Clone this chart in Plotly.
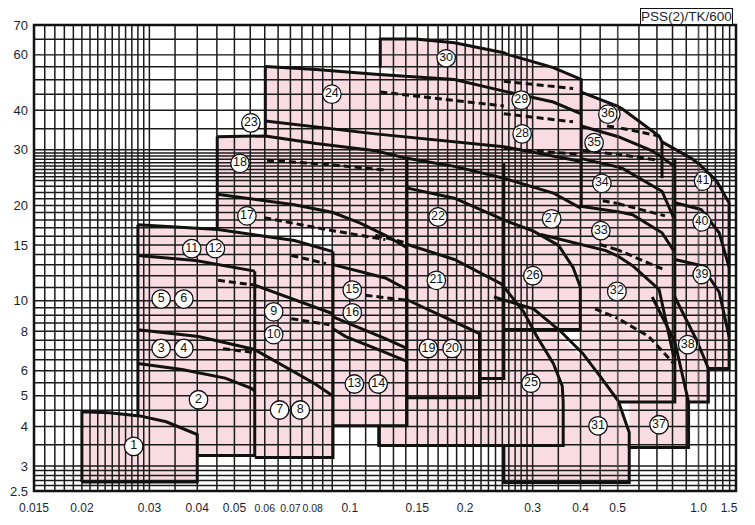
import math
import plotly.graph_objects as go

# ---------------- axis labels ----------------
x_tick_vals = [0.015, 0.02, 0.03, 0.04, 0.05, 0.06, 0.07, 0.08, 0.1, 0.15, 0.2, 0.3, 0.4, 0.5, 1.0, 1.5]
x_tick_text = ["0.015", "0.02", "0.03", "0.04", "0.05", "0.06", "0.07", "0.08", "0.1", "0.15",
               "0.2", "0.3", "0.4", "0.5", "1.0", "1.5"]
y_tick_vals = [2.5, 3, 4, 5, 6, 8, 10, 15, 20, 30, 40, 60, 70]
y_tick_text = ["2.5", "3", "4", "5", "6", "8", "10", "15", "20", "30", "40", "60", "70"]

# grid values of the chart paper
x_grid = ([round(0.015 + 0.001 * k, 3) for k in range(16)] +
          [0.035, 0.04, 0.045, 0.05, 0.055, 0.06, 0.065, 0.07, 0.075, 0.08, 0.085, 0.09, 0.1] +
          [round(0.11 + 0.01 * k, 2) for k in range(20)] +
          [0.35, 0.4, 0.45, 0.5] + [round(0.6 + 0.1 * k, 1) for k in range(10)])
y_grid = ([round(2.5 + 0.1 * k, 1) for k in range(6)] +
          [round(3.5 + 0.5 * k, 1) for k in range(14)] +
          [float(v) for v in range(11, 24)] +
          [round(24 + 2 / 3 * k, 2) for k in range(10)] +
          [35, 40, 45, 50, 55, 60, 65, 70])

# ---------------- pink selection areas (Q m3/min, H m) ----------------
area_1_q = [0.02, 0.02, 0.0236, 0.0283, 0.0332, 0.04, 0.04]
area_1_h = [2.67, 4.45, 4.42, 4.32, 4.14, 3.77, 2.67]
area_b_q = [0.028, 0.028, 0.0358, 0.0453, 0.0717, 0.0904, 0.0904]
area_b_h = [3.21, 17.4, 17.1, 16.8, 15.5, 14.3, 3.21]
area_d_q = [0.0451, 0.0451, 0.0602, 0.0817, 0.1166, 0.141, 0.141, 0.0904, 0.0904]
area_d_h = [16.8, 33.0, 33.2, 31.4, 29.8, 28.2, 4.02, 4.02, 16.8]
area_e_q = [0.0602, 0.0602, 0.0817, 0.1166, 0.1875, 0.2523, 0.3396, 0.4017, 0.4017, 0.2523,
            0.2523, 0.218, 0.218, 0.1408, 0.1408]
area_e_h = [33.2, 55.1, 53.9, 52.0, 50.1, 46.0, 42.5, 39.0, 8.1, 8.1, 5.67, 5.67, 4.93, 4.93, 28.2]
area_25_q = [0.119, 0.119, 0.1415, 0.1875, 0.2487, 0.2841, 0.3077, 0.3396, 0.3584, 0.3604, 0.3604]
area_25_h = [3.48, 15.05, 15.05, 13.5, 11.3, 9.22, 7.70, 6.33, 5.37, 4.78, 3.48]
area_30_q = [0.1201, 0.1201, 0.1479, 0.1875, 0.2523, 0.3396, 0.4017, 0.4017]
area_30_h = [54.6, 65.1, 65.1, 63.8, 60.6, 54.6, 50.1, 39.0]
area_31_q = [0.2523, 0.2523, 0.32, 0.3548, 0.4496, 0.504, 0.552, 0.552]
area_31_h = [2.66, 14.7, 11.04, 7.70, 5.77, 4.78, 3.83, 2.66]
area_g_q = [0.4017, 0.4017, 0.521, 0.713, 0.816, 0.816, 0.504, 0.4017]
area_g_h = [8.1, 45.7, 40.4, 33.2, 28.2, 4.78, 4.78, 5.77]
area_37_q = [0.552, 0.552, 0.816, 0.918, 0.918]
area_37_h = [3.43, 10.3, 7.70, 4.78, 3.43]
area_h_q = [0.731, 0.941, 1.212, 1.392, 1.392, 1.112, 1.112, 0.918, 0.816, 0.816]
area_h_h = [31.8, 28.2, 24.0, 20.4, 6.1, 6.1, 4.78, 4.78, 7.70, 28.2]

# ---------------- solid performance / limit lines ----------------
line_1_q = [0.02, 0.02, 0.0236, 0.0283, 0.0332, 0.04, 0.04, 0.02]
line_1_h = [2.67, 4.45, 4.42, 4.32, 4.14, 3.77, 2.67, 2.67]
line_b_left_q = [0.028, 0.028]
line_b_left_h = [4.32, 17.4]
line_11_12_q = [0.028, 0.0358, 0.0453, 0.0717, 0.0904]
line_11_12_h = [17.4, 17.1, 16.8, 15.5, 14.3]
line_5_6_q = [0.028, 0.0396, 0.0565]
line_5_6_h = [13.9, 13.4, 12.4]
line_b_box_q = [0.0565, 0.0565, 0.04]
line_b_box_h = [12.4, 3.24, 3.24]
line_3_4_q = [0.028, 0.0403, 0.0565]
line_3_4_h = [8.09, 7.70, 7.01]
line_2_q = [0.028, 0.0365, 0.0473, 0.0552, 0.0565]
line_2_h = [6.33, 6.06, 5.69, 5.29, 5.18]
line_7_8_q = [0.0565, 0.0658, 0.0807, 0.0904]
line_7_8_h = [7.0, 6.29, 5.48, 4.99]
line_c_box_q = [0.0904, 0.0904, 0.0565]
line_c_box_h = [14.3, 3.19, 3.19]
line_9_10_q = [0.0565, 0.0717, 0.0904]
line_9_10_h = [11.2, 10.05, 9.09]
line_17_18_left_q = [0.0451, 0.0451]
line_17_18_left_h = [16.8, 33.0]
line_18_q = [0.0451, 0.0602, 0.0817, 0.1166, 0.141, 0.1875, 0.2523, 0.3396, 0.3994]
line_18_h = [33.0, 33.2, 31.4, 29.8, 28.2, 26.6, 24.4, 21.9, 19.65]
line_17_q = [0.0451, 0.0717, 0.0904, 0.1065, 0.1238, 0.141]
line_17_h = [21.7, 20.1, 19.0, 17.6, 16.1, 14.7]
line_15_q = [0.0904, 0.1238, 0.141]
line_15_h = [13.0, 11.8, 10.85]
line_16_q = [0.0904, 0.1238, 0.141]
line_16_h = [8.89, 7.59, 7.06]
line_13_14_q = [0.0904, 0.0976, 0.1166, 0.141]
line_13_14_h = [8.15, 7.70, 7.06, 6.43]
line_d_box_q = [0.141, 0.141, 0.0904]
line_d_box_h = [28.2, 4.02, 4.02]
line_24_left_q = [0.0602, 0.0602]
line_24_left_h = [33.2, 55.1]
line_24_q = [0.0602, 0.0817, 0.1166, 0.1875, 0.2523, 0.3396, 0.4017]
line_24_h = [55.1, 53.9, 52.0, 50.1, 46.0, 42.5, 39.0]
line_23_q = [0.0602, 0.1166, 0.2523, 0.3994]
line_23_h = [37.0, 33.7, 30.7, 27.6]
line_30_q = [0.1201, 0.1201, 0.1479, 0.1875, 0.2523, 0.3396, 0.4017, 0.4017]
line_30_h = [54.6, 65.1, 65.1, 63.8, 60.6, 54.6, 50.1, 19.65]
line_36_q = [0.4017, 0.521, 0.713, 0.731, 0.731]
line_36_h = [45.7, 40.4, 33.2, 31.8, 24.4]
line_41_q = [0.731, 0.941, 1.212, 1.392, 1.392, 1.112, 1.112, 0.918, 0.918, 0.552, 0.552, 0.2523, 0.2523]
line_41_h = [31.8, 28.2, 24.0, 20.4, 6.1, 6.1, 4.78, 4.78, 3.43, 3.43, 2.66, 2.66, 3.48]
line_25_box_q = [0.119, 0.119, 0.3604, 0.3604]
line_25_box_h = [4.02, 3.48, 3.48, 4.78]
line_21_25_q = [0.1415, 0.1875, 0.2487, 0.2841, 0.3077, 0.3396, 0.3584, 0.3604]
line_21_25_h = [15.05, 13.5, 11.3, 9.22, 7.70, 6.33, 5.37, 4.78]
line_22_27_q = [0.1415, 0.1875, 0.2523, 0.3015, 0.3506, 0.3824, 0.3994]
line_22_27_h = [22.7, 21.1, 18.0, 16.6, 14.95, 12.75, 11.04]
line_31_q = [0.2378, 0.3015, 0.3548, 0.4058, 0.4496, 0.504, 0.552, 0.552]
line_31_h = [10.27, 9.42, 8.0, 6.8, 5.77, 4.78, 3.83, 3.43]
line_19_20_q = [0.1415, 0.1767, 0.218, 0.218, 0.1408]
line_19_20_h = [10.05, 8.89, 7.87, 4.93, 4.93]
line_26_27_box_q = [0.218, 0.2523, 0.2523, 0.3994, 0.3994]
line_26_27_box_h = [5.67, 5.67, 8.1, 8.1, 11.04]
line_e_right_q = [0.2523, 0.2523]
line_e_right_h = [27.2, 8.1]
line_g_box_q = [0.816, 0.816, 0.504]
line_g_box_h = [28.2, 4.78, 4.78]
line_35_q = [0.4017, 0.521, 0.672, 0.816]
line_35_h = [35.7, 32.5, 29.8, 26.6]
line_34_q = [0.3994, 0.521, 0.731, 0.808]
line_34_h = [28.2, 26.2, 22.2, 18.3]
line_33_q = [0.3994, 0.568, 0.731, 0.808]
line_33_h = [19.9, 18.7, 16.4, 14.4]
line_32_q = [0.315, 0.3994, 0.4659, 0.568, 0.713, 0.808]
line_32_h = [16.2, 15.05, 14.4, 12.9, 10.85, 6.66]
line_40_q = [0.816, 1.032, 1.25, 1.392]
line_40_h = [20.4, 19.4, 16.4, 12.75]
line_39_q = [0.816, 1.032, 1.25, 1.392]
line_39_h = [13.5, 12.9, 10.65, 7.70]
line_38_q = [0.816, 0.941, 1.055, 1.112]
line_38_h = [10.27, 7.98, 6.66, 6.1]
line_37_q = [0.672, 0.816, 0.918]
line_37_h = [10.27, 7.42, 4.78]

# ---------------- dashed lines ----------------
dash_3_4_q = [0.0467, 0.0565]
dash_3_4_h = [7.05, 6.85]
dash_9_10_q = [0.0453, 0.0565]
dash_9_10_h = [11.6, 11.2]
dash_15_q = [0.0704, 0.0867]
dash_15_h = [13.9, 13.1]
dash_16_q = [0.0704, 0.0885]
dash_16_h = [8.77, 8.39]
dash_17_q = [0.0598, 0.0867, 0.1238]
dash_17_h = [18.3, 16.8, 15.6]
dash_18_q = [0.0608, 0.0867, 0.1238]
dash_18_h = [27.8, 27.0, 25.9]
dash_19_q = [0.1099, 0.1394]
dash_19_h = [10.4, 10.05]
dash_21_q = [0.1166, 0.1415]
dash_21_h = [16.1, 15.2]
dash_a_q = [0.2523, 0.3824]
dash_a_h = [49.4, 46.9]
dash_b_q = [0.1201, 0.2523]
dash_b_h = [45.7, 41.3]
dash_c_q = [0.2523, 0.3824]
dash_c_h = [39.0, 36.8]
dash_d_q = [0.2523, 0.4017]
dash_d_h = [30.3, 29.0]
dash_e_q = [0.469, 0.713]
dash_e_h = [35.7, 33.2]
dash_f_q = [0.406, 0.713]
dash_f_h = [29.8, 27.8]
dash_32_q = [0.4365, 0.653, 0.808]
dash_32_h = [9.42, 7.70, 6.33]
dash_33_q = [0.4496, 0.75]
dash_33_h = [15.05, 12.5]
dash_34_q = [0.457, 0.75]
dash_34_h = [20.7, 18.55]

# ---------------- model number labels ----------------
label_text = [str(n) for n in range(1, 42)]
label_q = [0.0273, 0.0403, 0.0322, 0.0369, 0.0322, 0.0369, 0.0656, 0.0743, 0.0633, 0.0633,
           0.0387, 0.0446, 0.1028, 0.1186, 0.1015, 0.1015, 0.0539, 0.0517, 0.1604, 0.1849,
           0.1682, 0.1699, 0.0552, 0.0898, 0.297, 0.3004, 0.3363, 0.2816, 0.2801, 0.1784,
           0.4444, 0.4972, 0.452, 0.4547, 0.4339, 0.4714, 0.713, 0.911, 1.032, 1.032, 1.044]
label_h = [3.46, 4.86, 7.06, 7.06, 10.12, 10.12, 4.51, 4.51, 9.22, 7.81,
           14.6, 14.6, 5.45, 5.45, 10.8, 9.15, 18.55, 27.2, 7.06, 7.06,
           11.6, 18.4, 36.5, 45.0, 5.48, 12.0, 18.15, 33.7, 43.1, 58.7,
           4.02, 10.7, 16.65, 23.5, 31.6, 38.9, 4.05, 7.26, 12.1, 17.76, 23.9]

areas = [(area_1_q, area_1_h), (area_b_q, area_b_h), (area_d_q, area_d_h), (area_e_q, area_e_h),
         (area_25_q, area_25_h), (area_30_q, area_30_h), (area_31_q, area_31_h),
         (area_g_q, area_g_h), (area_37_q, area_37_h), (area_h_q, area_h_h)]
solids = [(line_1_q, line_1_h), (line_b_left_q, line_b_left_h), (line_11_12_q, line_11_12_h),
          (line_5_6_q, line_5_6_h), (line_b_box_q, line_b_box_h), (line_3_4_q, line_3_4_h),
          (line_2_q, line_2_h), (line_7_8_q, line_7_8_h), (line_c_box_q, line_c_box_h),
          (line_9_10_q, line_9_10_h), (line_17_18_left_q, line_17_18_left_h), (line_18_q, line_18_h),
          (line_17_q, line_17_h), (line_15_q, line_15_h), (line_16_q, line_16_h),
          (line_13_14_q, line_13_14_h), (line_d_box_q, line_d_box_h), (line_24_left_q, line_24_left_h),
          (line_24_q, line_24_h), (line_23_q, line_23_h), (line_30_q, line_30_h), (line_36_q, line_36_h),
          (line_41_q, line_41_h), (line_25_box_q, line_25_box_h), (line_21_25_q, line_21_25_h),
          (line_22_27_q, line_22_27_h), (line_31_q, line_31_h), (line_19_20_q, line_19_20_h),
          (line_26_27_box_q, line_26_27_box_h), (line_e_right_q, line_e_right_h),
          (line_g_box_q, line_g_box_h), (line_35_q, line_35_h), (line_34_q, line_34_h),
          (line_33_q, line_33_h), (line_32_q, line_32_h), (line_40_q, line_40_h),
          (line_39_q, line_39_h), (line_38_q, line_38_h), (line_37_q, line_37_h)]
dashes = [(dash_3_4_q, dash_3_4_h), (dash_9_10_q, dash_9_10_h), (dash_15_q, dash_15_h),
          (dash_16_q, dash_16_h), (dash_17_q, dash_17_h), (dash_18_q, dash_18_h),
          (dash_19_q, dash_19_h), (dash_21_q, dash_21_h),
          (dash_a_q, dash_a_h), (dash_b_q, dash_b_h), (dash_c_q, dash_c_h), (dash_d_q, dash_d_h),
          (dash_e_q, dash_e_h), (dash_f_q, dash_f_h), (dash_32_q, dash_32_h), (dash_33_q, dash_33_h),
          (dash_34_q, dash_34_h)]

# ---------------- styling / layout constants ----------------
PINK = "#f9dce3"
INK = "#111111"
GRID = "#1a1a1a"
TXT = "#1d1f2e"
FONT = "Liberation Sans, Arial, sans-serif"
# the page body adds an 8 px margin, so the figure is 16 px smaller than the window
W, H = 739, 509
ML, MR, MT, MB = 25, 2, 17, 21

# the printed chart paper is log-ruled with different decade lengths in places,
# so it is modelled as several log axes placed side by side
X_SEG = [(0.015, 0.5), (0.5, 1.0), (1.0, 1.5)]
X_PIX = [0, 592, 674, 712]
Y_SEG = [(2.5, 60.0), (60.0, 70.0)]
Y_PIX = [0, 441, 471]
PW, PH = W - ML - MR, H - MT - MB
X_DOM = [(X_PIX[i] / PW, X_PIX[i + 1] / PW) for i in range(3)]
Y_DOM = [(Y_PIX[j] / PH, Y_PIX[j + 1] / PH) for j in range(2)]


def axis_names(i, j):
    return ("x" if i == 0 else f"x{i + 1}", "y" if j == 0 else f"y{j + 1}")


def seg_index(v, segs):
    for k, (a, b) in enumerate(segs):
        if v <= b:
            return k
    return len(segs) - 1


def joined(pairs):
    xs, ys = [], []
    for q, h in pairs:
        xs += list(q) + [None]
        ys += list(h) + [None]
    return xs, ys


grid_pairs = [([v, v], [2.5, 70]) for v in x_grid] + [([0.015, 1.5], [v, v]) for v in y_grid]
gx, gy = joined(grid_pairs)
sx, sy = joined(solids)
dx, dy = joined(dashes)

fig = go.Figure()
for i in range(3):
    for j in range(2):
        xa, ya = axis_names(i, j)
        for q, h in areas:
            fig.add_trace(go.Scatter(x=q, y=h, xaxis=xa, yaxis=ya, mode="lines", fill="toself",
                                     fillcolor=PINK, line=dict(width=0), hoverinfo="skip",
                                     showlegend=False))
        fig.add_trace(go.Scatter(x=gx, y=gy, xaxis=xa, yaxis=ya, mode="lines",
                                 line=dict(color=GRID, width=1.5), hoverinfo="skip", showlegend=False))
        fig.add_trace(go.Scatter(x=sx, y=sy, xaxis=xa, yaxis=ya, mode="lines",
                                 line=dict(color=INK, width=3.0), hoverinfo="skip", showlegend=False))
        fig.add_trace(go.Scatter(x=dx, y=dy, xaxis=xa, yaxis=ya, mode="lines",
                                 line=dict(color=INK, width=3.0, dash="7px,4px"),
                                 hoverinfo="skip", showlegend=False))
        # numbered discs, clipped per cell so the pieces meet at the segment joins
        fig.add_trace(go.Scatter(x=label_q, y=label_h, xaxis=xa, yaxis=ya, mode="markers+text",
                                 text=label_text, textposition="middle center",
                                 textfont=dict(family="Liberation Sans Narrow, " + FONT, size=12.5,
                                               color=INK),
                                 marker=dict(symbol="circle", size=18.5, color="white",
                                             line=dict(color=INK, width=1.3)),
                                 cliponaxis=True, hoverinfo="skip", showlegend=False))

annotations = [dict(text="PSS(2)/TK/600", xref="paper", yref="paper", x=0.9958, y=1.0,
                    xanchor="right", yanchor="bottom", showarrow=False,
                    font=dict(family=FONT, size=13.5, color=TXT),
                    bordercolor=INK, borderwidth=1, borderpad=0, bgcolor="white")]

EPS = 1e-5
small = {"0.06", "0.07", "0.08"}
layout_axes = {}
for i, (a, b) in enumerate(X_SEG):
    name = "xaxis" if i == 0 else f"xaxis{i + 1}"
    sel = [k for k, v in enumerate(x_tick_vals) if seg_index(v, X_SEG) == i]
    tt = []
    for k in sel:
        t = x_tick_text[k]
        tt.append(f'<span style="font-size:10.5px">{t}</span>' if t in small else t)
    layout_axes[name] = dict(type="log", range=[math.log10(a) - EPS, math.log10(b) + EPS],
                             domain=list(X_DOM[i]), anchor="y", tickvals=[x_tick_vals[k] for k in sel],
                             ticktext=tt, tickangle=0, showgrid=False, zeroline=False, showline=False,
                             ticks="", ticklabelstandoff=8, ticklabelshift=(-7 if i == 2 else 0),
                             tickfont=dict(family=FONT, size=12, color=TXT), fixedrange=True)
for j, (a, b) in enumerate(Y_SEG):
    name = "yaxis" if j == 0 else f"yaxis{j + 1}"
    sel = [k for k, v in enumerate(y_tick_vals) if seg_index(v, Y_SEG) == j]
    layout_axes[name] = dict(type="log", range=[math.log10(a) - EPS, math.log10(b) + EPS],
                             domain=list(Y_DOM[j]), anchor="x", tickvals=[y_tick_vals[k] for k in sel],
                             ticktext=[y_tick_text[k] for k in sel], showgrid=False, zeroline=False,
                             showline=False, ticks="", ticklabelstandoff=5,
                             tickfont=dict(family=FONT, size=13, color=TXT), fixedrange=True)

fig.update_layout(
    width=W, height=H, autosize=False,
    margin=dict(l=ML, r=MR, t=MT, b=MB, pad=0),
    paper_bgcolor="white", plot_bgcolor="white",
    showlegend=False,
    shapes=[dict(type="rect", xref="paper", yref="paper", x0=0, x1=1, y0=0, y1=1,
                 line=dict(color=INK, width=2.5), layer="above")],
    annotations=annotations,
    **layout_axes,
)

fig.write_html("out.html")
